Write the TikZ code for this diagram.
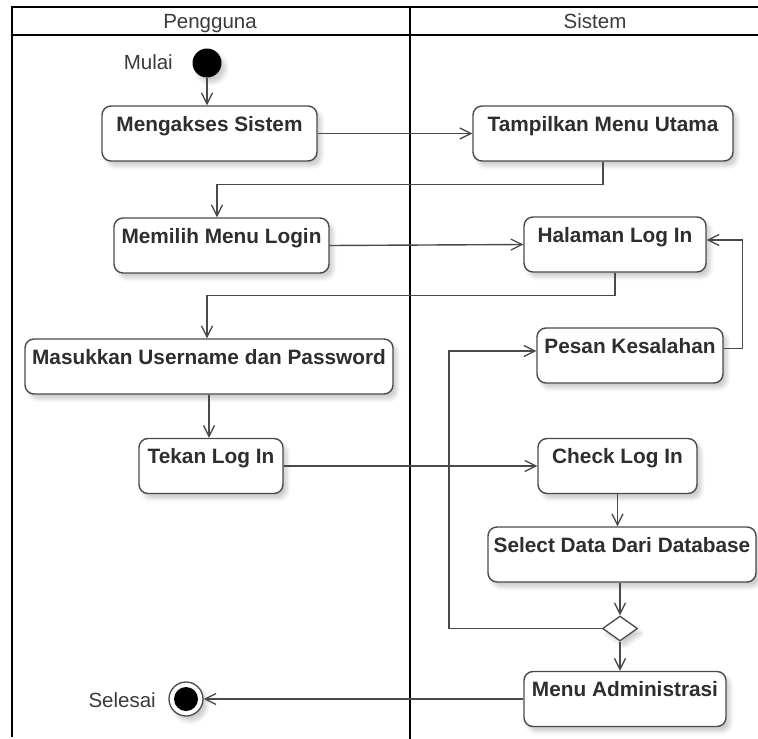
\documentclass[tikz,border=0pt]{standalone}
\usepackage{fontspec}
\setmainfont{Liberation Sans}
\usetikzlibrary{arrows.meta,shapes.geometric,shadows.blur}

\definecolor{edgegray}{HTML}{4A4A4A}
\definecolor{textgray}{HTML}{2E2E2E}
\definecolor{lanegray}{HTML}{3A3A3A}

\tikzset{
  lane/.style={line width=2.9pt, black},
  softshadow/.style={blur shadow={shadow xshift=4pt, shadow yshift=-5pt,
      shadow blur radius=4pt, shadow opacity=20}},
  act/.style={draw=edgegray, line width=1.4pt, rounded corners=9pt, fill=white,
      softshadow, inner xsep=0pt, inner ysep=0pt,
      text height=25pt, text depth=30pt, minimum height=55pt,
      font=\fontsize{20.8}{22}\selectfont\bfseries, text=textgray},
  flow/.style={draw=edgegray, line width=1.4pt,
      -{Straight Barb[length=11pt, width=11pt, line width=1.3pt]}},
  lanetitle/.style={font=\fontsize{20.5}{22}\selectfont, text=lanegray,
      anchor=base, inner sep=0pt},
  tag/.style={font=\fontsize{20.5}{22}\selectfont, text=lanegray, inner sep=0pt},
}

\begin{document}
\begin{tikzpicture}[x=1pt, y=-1pt]
  \useasboundingbox (0,0) rectangle (758,739);

  % swimlane frame
  \draw[lane] (12,7) -- (758,7);
  \draw[lane] (12,35) -- (758,35);
  \draw[lane] (12,5.6) -- (12,737);
  \draw[lane] (410,5.6) -- (410,739);
  \node[lanetitle] (laneA) at (210,28) {Pengguna};
  \node[lanetitle] (laneB) at (595,28) {Sistem};

  % initial and final states
  \node[circle, fill=black, minimum size=29pt, inner sep=0pt, softshadow] (start) at (207,63) {};
  \node[tag, anchor=east] (startlbl) at (173,62) {Mulai};
  \node[circle, draw=edgegray, line width=1.3pt, fill=white, minimum size=34pt, inner sep=0pt,
        softshadow,
        path picture={\fill[black] (path picture bounding box.center) circle (12pt);}]
        (finish) at (186,699) {};
  \node[tag, anchor=east] (finishlbl) at (156,700) {Selesai};

  % actions of the user
  \node[act, minimum width=215pt] (akses)   at (209.5,133.5) {Mengakses Sistem};
  \node[act, minimum width=215pt] (pilih)   at (221.5,245.5) {Memilih Menu Login};
  \node[act, minimum width=368pt] (masuk)   at (209,366.5)   {Masukkan Username dan Password};
  \node[act, minimum width=144pt] (tekan)   at (211,466)     {Tekan Log In};

  % actions of the system
  \node[act, minimum width=260pt] (utama)   at (603,133.5)   {Tampilkan Menu Utama};
  \node[act, minimum width=182pt] (halaman) at (615,244.5)   {Halaman Log In};
  \node[act, minimum width=186pt] (pesan)   at (630,355.5)   {Pesan Kesalahan};
  \node[act, minimum width=159pt] (cek)     at (617.5,466)   {Check Log In};
  \node[act, minimum width=268pt] (pilihdb) at (622,554.5)   {Select Data Dari Database};
  \node[diamond, draw=edgegray, line width=1.3pt, fill=white, minimum width=35pt,
        minimum height=25pt, inner sep=0pt, softshadow] (cabang) at (620,628.5) {};
  \node[act, minimum width=202pt] (admin)   at (625,699)     {Menu Administrasi};

  % control flow
  \draw[flow] (start.south) -- (start.south |- akses.north);
  \draw[flow] (akses.east) -- (utama.west);
  \draw[flow] (utama.south) -- ++(0,23) -| ([xshift=-4.5pt]pilih.north);
  \draw[flow] (pilih.east) -- (halaman.west);
  \draw[flow] (halaman.south) -- ++(0,23) -| ([xshift=-2pt]masuk.north);
  \draw[flow] ([yshift=7pt]pesan.east) -- ++(19,0) |- ([yshift=4.5pt]halaman.east);
  \draw[flow] (masuk.south) -- (masuk.south |- tekan.north);
  \draw[flow] (tekan.east) -- (cek.west);
  \draw[flow] (cek.south) -- (cek.south |- pilihdb.north);
  \draw[flow] (cabang.north |- pilihdb.south) -- (cabang.north);
  \draw[flow] (cabang.west) -- ++(-153,0) |- ([yshift=4.5pt]pesan.west);
  \draw[flow] (cabang.south) -- (cabang.south |- admin.north);
  \draw[flow] (admin.west) -- (finish.east);
\end{tikzpicture}
\end{document}
